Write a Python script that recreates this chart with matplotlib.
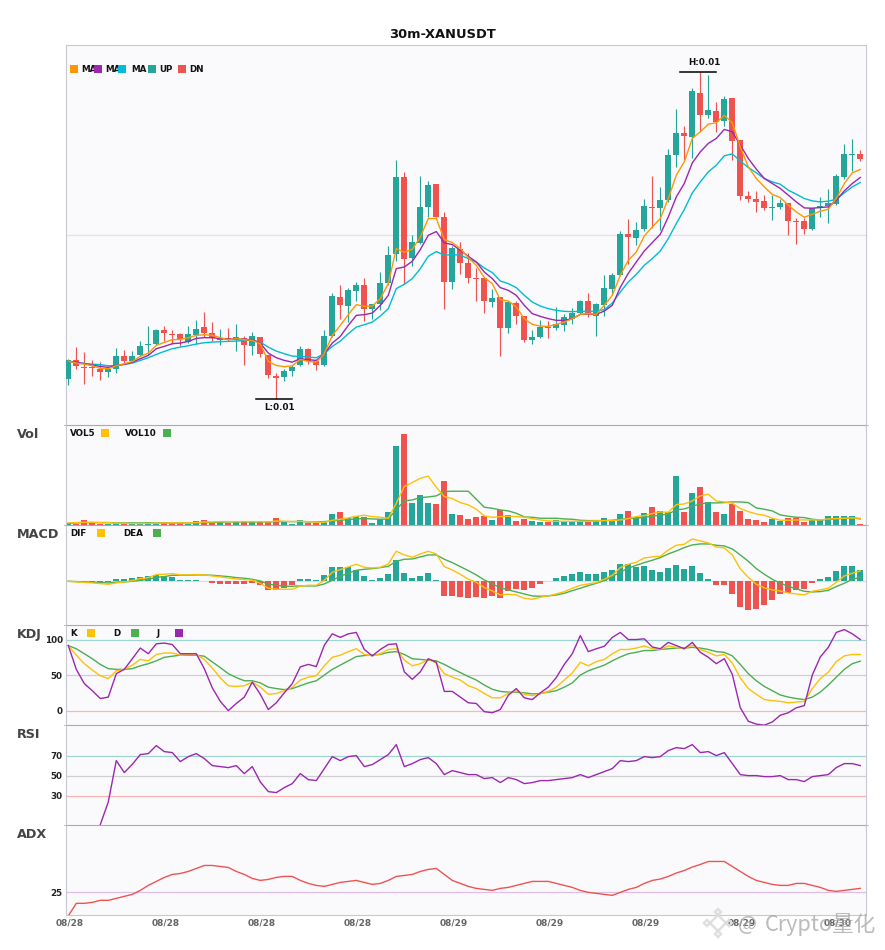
import numpy as np
import matplotlib
matplotlib.use("Agg")
import matplotlib.pyplot as plt
from matplotlib.lines import Line2D
from matplotlib.patches import Rectangle, Polygon

W, H = 885, 950

# ---------- data ----------
opens = [45.3,64,57.3,57.3,55.7,52,55.3,68,63,69.3,79.3,80,94,90.3,90,82.3,89.7,97,91,84,
         86,84,86,78,87,69,48,47,53,59,75,63,59,88,127,118,133,139,115,120,
         141,170,247,166,181,217,240,207,142,175,161,146,146,122,127,96,121,108,84,87,
         97,96,99,105,111,123,108,119,135,149,190,186.3,195,217.3,216,224,269,291,287,331,
         309,313,303,326,284,228,225,223,216.3,217,221,203,203,195,216,218,220,247,269.3,270]
closes = [64,58.3,56.7,56.7,52,55,68,63,68,78,80,94,91,89.7,85,90,95,91,86.7,86,
          84.7,87,79,88,70,49,46.3,53,57,75,63,59,88,128,119,134,139,115,120,141,
          169,247,165,182,217,239,207,142,176,161,146,145.3,123,126,96,122,108,84,87,97,
          96,100,107,111,123,110,120,136,149,190,187.3,194,218,216.3,224,269,291,288,333,309,
          314,302,325,283,228,225,222,216,217,221,203,202,195,216,218,221,248,270,270,265]
highs = [65.7,77,72,64.7,62.3,58.3,76,74,73,83,98,95,98,94,91,98,104,112,102,95,
         96,100,88,92,87,69,51,55.7,59.7,78,76,64,94,131,139,136,142,146,120,152,
         178,264,252,189,248,243,240,212,178,182,171,156,146,135,127,122,123,108,94,104,
         103,117,110,116,124,131,121,149,151,193,205,202,225,248,237,275,315,298,336,352.3,
         349,322,328,326,284,233,233,229,229,225,221,206,206,216,227,235,250,280,285,274]
lows = [39.3,55.3,40.3,48.3,44.3,47.3,51.3,60.7,62.3,68,69,79,83.3,80.7,78,81,80,87.3,83,79,
        83.3,73,59,69,67,46,25.7,43.3,48.3,58,60.7,54,58,87.3,105,102,123,103,105,114,
        139,163,140.7,158,180,207.3,207,115,135,150,141,123,111,117,68,91,100,82,80,86,
        86,94,93,100,110,107,88,108,130,148,160.7,179,193,196,194,222,257,264,266,293,
        306,292,298,264,224,222,212,214,204,215,189,180,190,194,207,201,219,245,253,263]

ma5 = [63.3,61.3,60.3,58.7,56,55.7,58.7,60.7,63,68,71.3,79,82,84.7,85,86.7,89,89.7,89,86.7,
       84.7,85.7,84.7,84,80.7,63,59,57.7,58.7,65,63,62.3,70.7,89,99,109.7,119.7,118,118.3,125.7,
       140.7,175.7,172,175,187.3,205.7,205.7,184.7,181.7,175.7,166.7,159,146.7,140.7,124.7,123.3,117.3,105.7,100,98.3,
       98,100,102.3,105.7,110,110.7,110,119,129,149,164,172.3,188.3,197.3,205.7,225.7,249,262.3,285.7,292.3,
       300,301.3,308.7,301.3,277.3,257.3,245.7,237.3,229.7,226.7,219,212.3,207,210,213,215,225.7,240.7,251.3,254.7]
ma10 = [63,62.3,60.7,59.3,58,57,59,60,62.3,65.7,69,75.7,78,80.7,81.3,83,86,86.7,86.7,85.7,
        85.3,85.3,85,84.7,81.3,71.3,66.7,64,62.3,65.7,64.7,64,70.7,81.3,88,99,109,109.7,111.3,119,
        129,155.7,157.3,163,174.7,189,192.7,181.3,179.7,174,168,162.3,152.3,145.7,136.7,134,129,119,110.7,108,
        105.7,104,104,105.7,110,110.3,110,113.3,119,137,151,162.3,173.3,181.7,190,207.3,227.3,240.7,261.3,272.3,
        280.7,285.7,294.7,292.3,279,265.7,255,245.7,240.7,235.7,229,222.3,216.3,216,216.7,217.3,224,233.3,240.7,246.7]
ma20 = [63,62,61,60.3,59.7,58.7,58.7,60,61.3,64,66.7,70,73,75.7,77.3,78.7,80.3,81.7,82.3,82.7,
        83,83.3,84,84,82.3,77.3,73.3,70.7,68.3,68,67.3,66.7,70.7,78,83.3,90.7,97.3,99.7,102.3,108.3,
        115.7,135.7,140,145.7,155.7,168,172.7,169,169.7,169,165.7,162.3,156.3,151.7,143.3,140.7,136.7,129,122.3,118.3,
        115.7,114,113,112.7,113,113,113.3,114.7,121.3,132.3,142.3,150,159,165.7,173.3,185.7,200.7,214.7,231.3,242.3,
        252.3,259,268.3,270.3,263,256.7,251.3,245.7,242.3,240,234,230,225.7,223.3,222.3,223,225,231.3,237.3,241.7]

volume = [5,3,14,4,3,3,4,2,3,3,8,5,8,4,4,3,11,14,8,8,4,11,11,9,8,7,20,8,3,14,5,4,11,32,38,20,26,23,5,17,
          38,236,272,65,89,65,62,131,32,29,17,23,26,14,44,29,11,17,11,8,9,14,9,9,11,14,11,20,11,32,
          41,23,35,53,41,38,146,38,95,113,68,38,32,62,41,17,14,8,17,11,20,20,8,14,14,26,26,26,26,2]
vol5 = [5,6,7,7,6,6,4,4,3,3,4,4,5,5,5,5,6,8,8,9,9,9,9,9,9,8,11,10,9,10,9,7,7,13,16,20,25,28,24,22,
        19,64,114,126,139,145,112,84,78,66,59,46,26,22,24,25,24,22,18,14,11,10,10,10,10,10,11,12,12,14,
        18,24,27,33,38,37,60,62,71,86,91,71,68,64,48,39,32,28,19,13,13,14,14,14,14,17,18,19,20,19]
vol10 = [4,5,6,6,6,6,5,5,5,5,5,5,5,5,5,5,5,6,6,7,8,8,8,8,8,8,9,9,9,9,8,8,9,11,13,15,17,18,17,16,
         17,45,71,74,81,83,86,99,100,100,100,76,52,49,44,41,34,23,22,19,19,19,17,16,13,12,12,12,13,16,
         18,19,22,25,28,32,44,47,55,62,65,65,66,68,68,66,50,46,41,29,25,22,21,16,14,15,17,19,20,17]

macd_hist = [0,0,-3,-4,-5,-3,6,6,9,12,15,18,16,13,3,3,3,0,-5,-7,-7,-7,-7,-5,-11,-26,-26,-19,-11,6,
             6,3,19,43,43,43,34,16,3,10,22,63,25,10,16,25,3,-44,-44,-47,-50,-47,-50,-44,-50,-28,-24,-26,-19,-8,
             0,9,15,21,27,21,21,27,33,51,51,42,45,33,27,39,48,36,45,24,6,-11,-11,-38,-77,-86,-83,-71,-56,-38,
             -35,-26,-24,-5,6,12,30,45,45,33]
dif = [0,-2,-3,-5,-7,-9,-5,-2,2,8,11,20,21,23,19,19,20,19,16,13,10,7,5,3,-6,-21,-24,-24,-24,-15,
       -12,-12,3,27,35,43,51,42,40,42,52,90,79,72,82,90,82,44,34,21,6,-3,-19,-29,-41,-39,-41,-51,-54,-48,
       -44,-38,-31,-21,-12,-8,-4,6,18,41,51,57,70,73,75,94,108,111,127,121,115,103,100,79,37,12,-9,-20,-26,-29,
       -35,-38,-41,-30,-26,-21,-3,16,24,31]
dea = [0,-1,-2,-3,-4,-5,-3,-2,0,3,6,12,14,18,18,18,19,19,18,16,14,11,9,6,1,-9,-12,-15,-15,-14,
       -14,-14,-8,3,15,24,33,36,38,41,45,60,66,67,73,79,79,66,56,44,32,19,4,-8,-19,-26,-32,-38,-44,-45,
       -44,-41,-36,-28,-21,-13,-6,2,14,28,39,48,56,63,71,82,91,101,109,112,112,108,106,97,79,60,38,21,6,-6,
       -15,-23,-30,-32,-31,-27,-16,-6,6,12]

k_line = [91.5,78,66,57,49,45,56,58,64,72,70,79,81,81,78,79,79,72,60,46,35,34,35,40,33,23,24,28,33,43,
          47,49,63,75,78,83,87,79,77,80,86,87,71,63,66,72,67,52,47,43,35,31,24,18,18,24,28,23,21,24,
          27,33,43,53,68,63,69,72,80,86,86,88,91,87,86,91,89,87,92,86,82,77,79,67,46,31,23,15.5,14,13,
          11,12,13,31,45,54,69,77,79,79]
d_line = [91.5,87,80,73,65,59,58,58,59,63,66,70,75,76.5,78,78,78,76.5,68.5,60.5,52,46.5,42,42,39,33,31,29.5,31,35,
          39,42,50,58,64,70,76,77.5,78,79,82,83,79,73,72,71,70,65,59,53.5,48,43,36,30,27,26,26,25,23.5,24,
          26,28,33,39,50,56,60,64,70,75.5,80,82,84.5,84.5,86,87,88,88,89,88,86,83,82,77,65,52,42,34,28,22,
          19,17,15.5,19,26,36,47,58,66,69.5]
j_line = [91.5,58,38,28,17,19,52,58,73,88,80,94,95,93,80,80,80,59,32,13,0,10,19,40,23,1.5,11,25,38,61.5,
          65,62,92,108,103,108,110,86,77,86,93,94,54.5,44,54.5,73,68,27,27,19,11,10,-1.5,-3,1.5,21.5,31,18,15.5,25,
          33,46.5,65,80,105.5,83,87,90.5,103,110,100,100,101,89.5,87,96,91.5,87,96,82,75,66,73,51,4,-15,-19,-20.5,-16,-6.5,
          -3,4,7,50,75.5,89,110,114,108,100]
# the first four readings lie below the panel and are not visible in the reference
rsi = [np.nan,np.nan,np.nan,np.nan,1,23.7,65,53,61.3,71,72,80,74,73,64,69,72,67,60,59,58,60,52,59,43.7,34,33,38,42,52,
       46,45,57,69,65,69,70,59,61,66,71,81,59,62,66,68,62,51,55,53,51,51,47,48,43,48,46,42,43,45,
       45,46,47,48,51,48,51,54,57,65,64,65,69,68,69,75,78,77,81,73,74,70,73,62,51,50,50,49,49,50,
       46,46,44,49,50,51,58,62,62,60]
adx = [13.2,19.5,19.5,20,21,21,22,23,24,26,28.5,30.5,32.5,34,34.5,35.5,37,38.5,38.5,38,37.5,35.5,34,32,31,31.5,32.5,33,33,31,
       29.5,28.5,28,29,30,30.5,31,30,29,29.5,31,33,33.5,34,35.5,36.5,37,34,31,29.5,28,27,26.5,26,27,27.5,28.5,29.5,30.5,30.5,
       30.5,29.5,28.5,27.5,26,25,24.5,24,23.5,25,26.5,27.5,29.5,31,31.7,33,34.7,36,37.7,39,40.5,40.5,40.5,38,35.5,33,31,30,29,28.5,
       28.5,29.5,29.5,28.5,27.5,26,25.5,26,26.5,27]

tick_idx = [0,12,24,36,48,60,72,84,96]
tick_txt = ["08/28","08/28","08/28","08/28","08/29","08/29","08/29","08/29","08/30"]

# ---------- styles ----------
UP, DN = "#26a69a", "#ef5350"
C_MA5, C_MA10, C_MA20 = "#ff9800", "#9c27b0", "#00bcd4"
C_K, C_D, C_J = "#ffc107", "#4caf50", "#9c27b0"
BG = "#fafafd"
EDGE = "#c8c8d0"
SEP = "#a9a9b0"
LW = 1.0

x = np.arange(100)
o, c, hi, lo = map(np.array, (opens, closes, highs, lows))
colors = [UP if cc >= oo else DN for oo, cc in zip(o, c)]

fig = plt.figure(figsize=(W / 100, H / 100), dpi=100, facecolor="white")

X0, X1 = 65.6, 865.8
def panel(top, bottom):
    ax = fig.add_axes([X0 / W, 1 - bottom / H, (X1 - X0) / W, (bottom - top) / H])
    ax.set_facecolor(BG)
    ax.set_xlim((X0 - 68.3) / 8, (X1 - 68.3) / 8)
    ax.set_xticks([])
    ax.set_yticks([])
    for s in ("left", "right"):
        ax.spines[s].set_color(EDGE)
        ax.spines[s].set_linewidth(0.8)
    ax.spines["top"].set_color(SEP)
    ax.spines["top"].set_linewidth(0.8)
    ax.spines["bottom"].set_visible(False)
    return ax

def yticks(ax, vals):
    ax.set_yticks(vals)
    ax.set_yticklabels([str(v) for v in vals], fontsize=6.3, fontweight="bold", color="#222222")
    ax.tick_params(axis="y", length=0, pad=2)

ax_main = panel(45, 424.5)
ax_vol = panel(424.5, 524.6)
ax_macd = panel(524.6, 624.6)
ax_kdj = panel(624.6, 724.6)
ax_rsi = panel(724.6, 824.6)
ax_adx = panel(824.6, 915.3)
ax_main.spines["top"].set_color(EDGE)
ax_adx.spines["bottom"].set_visible(True)
ax_adx.spines["bottom"].set_color(EDGE)
ax_adx.spines["bottom"].set_linewidth(0.8)

# main candles
ax_main.set_ylim(0, 379)
ax_main.axhline(189, color="#e2e2e4", lw=0.9, zorder=1)
ax_main.vlines(x, lo, hi, colors=colors, lw=0.85, zorder=2)
ax_main.bar(x, np.abs(c - o), bottom=np.minimum(o, c), width=0.75, color=colors, zorder=3)
ax_main.plot(x, ma20, color=C_MA20, lw=LW, zorder=4)
ax_main.plot(x, ma10, color=C_MA10, lw=LW, zorder=5)
ax_main.plot(x, ma5, color=C_MA5, lw=LW, zorder=6)

ih, il = int(np.argmax(hi)), int(np.argmin(lo))
ax_main.plot([ih - 2.5, ih + 2], [hi[ih]] * 2, color="black", lw=1.1, zorder=7)
ax_main.plot([il - 2.5, il + 2], [lo[il]] * 2, color="black", lw=1.1, zorder=7)
ax_main.annotate("H:0.01", (ih + 0.5, hi[ih]), xytext=(0, 6.8), textcoords="offset points",
                 ha="center", va="center", fontsize=6.3, fontweight="bold", color="#111111")
ax_main.annotate("L:0.01", (il + 0.38, lo[il]), xytext=(0, -6.5), textcoords="offset points",
                 ha="center", va="center", fontsize=6.3, fontweight="bold", color="#111111")

# volume
ax_vol.set_ylim(0, 300)
ax_vol.bar(x, volume, width=0.75, color=colors, zorder=2)
ax_vol.plot(x, vol10, color=C_D, lw=LW, zorder=3)
ax_vol.plot(x, vol5, color=C_K, lw=LW, zorder=4)

# macd
ax_macd.set_ylim(-130, 170)
ax_macd.axhline(0, color="#dddddd", lw=0.9, zorder=1)
ax_macd.bar(x, macd_hist, width=0.75, color=[UP if v >= 0 else DN for v in macd_hist], zorder=2)
ax_macd.plot(x, dea, color=C_D, lw=LW, zorder=3)
ax_macd.plot(x, dif, color=C_K, lw=LW, zorder=4)

# kdj
ax_kdj.set_ylim(-19.7, 121)
ax_kdj.axhline(100, color="#9fd6d2", lw=0.9, zorder=1)
ax_kdj.axhline(50, color="#cfcfd2", lw=0.9, zorder=1)
ax_kdj.axhline(0, color="#ffb3b3", lw=0.9, zorder=1)
ax_kdj.plot(x, d_line, color=C_D, lw=LW, zorder=3)
ax_kdj.plot(x, k_line, color=C_K, lw=LW, zorder=4)
ax_kdj.plot(x, j_line, color=C_J, lw=LW, zorder=5)
yticks(ax_kdj, [0, 50, 100])

# rsi
ax_rsi.set_ylim(1, 101)
ax_rsi.axhline(70, color="#9fd6d2", lw=0.9, zorder=1)
ax_rsi.axhline(50, color="#cfcfd2", lw=0.9, zorder=1)
ax_rsi.axhline(30, color="#ffb3b3", lw=0.9, zorder=1)
ax_rsi.plot(x, rsi, color=C_J, lw=LW, zorder=3)
yticks(ax_rsi, [30, 50, 70])

# adx
ax_adx.set_ylim(13.5, 59)
ax_adx.axhline(25, color="#e1bee7", lw=0.9, zorder=1)
ax_adx.plot(x, adx, color=DN, lw=LW, zorder=3)
yticks(ax_adx, [25])
ax_adx.set_xticks(np.array(tick_idx) + 0.21)
ax_adx.set_xticklabels(tick_txt, fontsize=6.5, fontweight="bold", color="#666666")
ax_adx.tick_params(axis="x", length=0, pad=2.2)

# small stubs at the panel joins, on both outer edges
for py in (424.5, 524.6, 624.6, 724.6, 824.6):
    for a, b in ((X0 - 2, X0), (X1, X1 + 2)):
        fig.add_artist(Line2D([a / W, b / W], [1 - py / H] * 2, transform=fig.transFigure,
                              color="#bdbdc4", lw=0.7))

# ---------- pixel-placed text and legends ----------
def ptext(px, py, s, **kw):
    fig.text(px / W, 1 - py / H, s, **kw)

def square(px, py, color, size=8):
    fig.add_artist(Rectangle((px / W, 1 - (py + size) / H), size / W, size / H,
                             transform=fig.transFigure, color=color, lw=0, zorder=6))

ptext(443, 34.5, "30m-XANUSDT", ha="center", va="center", fontsize=9.4, fontweight="bold", color="#111111")

for name, py in [("Vol", 434.5), ("MACD", 534.5), ("KDJ", 634.5), ("RSI", 734.5), ("ADX", 834.5)]:
    ptext(17, py, name, ha="left", va="center", fontsize=9.2, fontweight="bold", color="#444444")

def legend(py, items):
    for lx, label, sx, col in items:
        ptext(lx, py + 4, label, ha="left", va="center", fontsize=6.3, fontweight="bold",
              color="#111111", zorder=5)
        square(sx, py, col)

legend(65, [(81, "MA", 70, C_MA5), (105, "MA", 94, C_MA10), (131, "MA", 118, C_MA20),
            (159, "UP", 148, UP), (189, "DN", 178, DN)])
legend(429, [(70, "VOL5", 101, C_K), (125, "VOL10", 163, C_D)])
legend(529, [(70, "DIF", 97, C_K), (123, "DEA", 153, C_D)])
legend(629, [(70, "K", 87, C_K), (113, "D", 131, C_D), (157, "J", 175, C_J)])

# watermark
WM = "#a4a4a4"
ptext(765, 925, "Crypto量化", ha="left", va="center", fontsize=15.6, color=WM, alpha=0.75,
      family=["Noto Sans CJK SC", "DejaVu Sans"], zorder=8)
ptext(738, 925, "@", ha="left", va="center", fontsize=14.5, color=WM, alpha=0.75,
      family=["Noto Sans CJK SC", "DejaVu Sans"], zorder=8)
def diamond(cx, cy, r):
    pts = [((cx + dx) / W, 1 - (cy + dy) / H) for dx, dy in [(0, -r), (r, 0), (0, r), (-r, 0)]]
    fig.add_artist(Polygon(pts, closed=True, transform=fig.transFigure, fill=False,
                           edgecolor="#dcdcdc", lw=1.8, alpha=0.9, zorder=8))
diamond(718, 923, 8)
diamond(707, 923, 3)
diamond(729, 923, 3)
diamond(718, 912, 3)
diamond(718, 934, 3)

fig.savefig("out.png", dpi=100)
